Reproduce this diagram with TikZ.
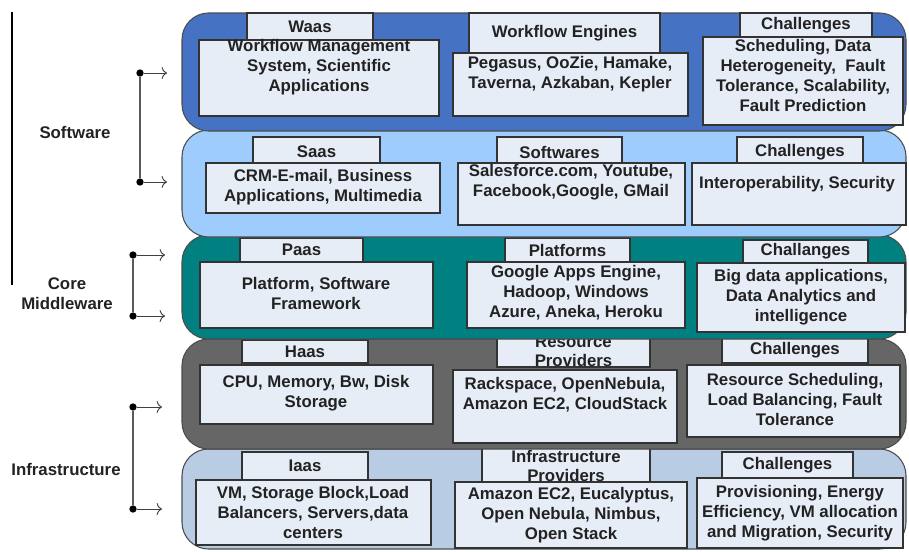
\documentclass[tikz,border=0pt]{standalone}
\usepackage{fontspec}
\setmainfont{Liberation Sans}
\usetikzlibrary{arrows.meta}

\definecolor{waasblue}{RGB}{70,114,196}
\definecolor{saasblue}{RGB}{158,204,252}
\definecolor{paasteal}{RGB}{0,128,128}
\definecolor{haasgray}{RGB}{102,102,102}
\definecolor{iaaslight}{RGB}{184,204,228}
\definecolor{boxfill}{RGB}{231,237,247}
\definecolor{inktext}{RGB}{34,34,34}

\begin{document}
\begin{tikzpicture}[
        x=0.75pt, y=-0.75pt,
        font=\fontsize{12.6}{15}\selectfont\bfseries,
        wh/.style 2 args={minimum width=#1*0.75pt, minimum height=#2*0.75pt},
        layer/.style={draw=black!70, line width=0.8pt, rounded corners=20pt, inner sep=0pt},
        titlebox/.style={draw=black!80, line width=0.8pt, fill=boxfill, inner sep=0pt, text=inktext},
        contentbox/.style={draw=black!80, line width=0.8pt, fill=boxfill, inner sep=0pt},
        boxtext/.style={align=center, inner sep=0pt, text=inktext},
        tighttext/.style={align=center, inner sep=0pt, text=inktext, font=\fontsize{12.6}{14}\selectfont\bfseries},
        sidelabel/.style={align=center, inner sep=0pt, text=inktext},
        dot/.style={circle, fill=black, inner sep=0pt, minimum size=5.5pt},
        bracket/.style={draw=black!65, line width=1.1pt},
        pointer/.style={-{To[length=4pt, width=9pt]}, draw=black!75, line width=0.7pt}
    ]
    \useasboundingbox (0,0) rectangle (909,551);

    % --- Iaas layer ---
    \node[layer, fill=iaaslight, wh={724}{100}] (iL) at (544,499) {};
    \node[titlebox, wh={126}{28}] (iaasT) at (305,466) {Iaas};
    \node[contentbox, wh={235}{65}] (iaasB) at (313.5,512.5) {};
    \node[boxtext] (iaasX) at (313,512) {VM, Storage Block,Load\\Balancers, Servers,data\\centers};
    \node[titlebox, wh={168}{37}] (ipT) at (566,463.5) {};
    \node[tighttext] (ipTX) at (566,466) {Infrastructure\\Providers};
    \node[contentbox, wh={232}{66}] (ipB) at (571,515) {};
    \node[boxtext] (ipX) at (571,515) {Amazon EC2, Eucalyptus,\\Open Nebula, Nimbus,\\Open Stack};
    \node[titlebox, wh={131}{26}] (ichT) at (787.5,465) {Challenges};
    \node[contentbox, wh={206}{70}] (ichB) at (800,513) {};
    \node[boxtext] (ichX) at (800,513) {Provisioning, Energy\\Efficiency, VM allocation\\and Migration, Security};

    % --- Haas layer ---
    \node[layer, fill=haasgray, wh={724}{110}] (hL) at (544,394) {};
    \node[titlebox, wh={126}{23}] (haasT) at (305,351.5) {Haas};
    \node[contentbox, wh={233}{59}] (haasB) at (316.5,394.5) {};
    \node[boxtext] (haasX) at (316,393.5) {CPU, Memory, Bw, Disk\\Storage};
    \node[titlebox, wh={153}{34}] (rpT) at (573.5,350) {};
    \node[tighttext] (rpTX) at (573.5,351.5) {Resource\\Providers};
    \node[contentbox, wh={224}{73}] (rpB) at (565,406.5) {};
    \node[boxtext] (rpX) at (565,394.5) {Rackspace, OpenNebula,\\Amazon EC2, CloudStack};
    \node[titlebox, wh={146}{26}] (hchT) at (795,350) {Challenges};
    \node[contentbox, wh={213}{72}] (hchB) at (793.5,401) {};
    \node[boxtext] (hchX) at (795,399.5) {Resource Scheduling,\\Load Balancing, Fault\\Tolerance};

    % --- Paas layer ---
    \node[layer, fill=paasteal, wh={724}{104}] (pL) at (544,287) {};
    \node[titlebox, wh={123}{24}] (paasT) at (301.5,250) {Paas};
    \node[contentbox, wh={233}{66}] (paasB) at (316.5,295) {};
    \node[boxtext] (paasX) at (316,293) {Platform, Software\\Framework};
    \node[titlebox, wh={125}{24}] (platT) at (567.5,250) {Platforms};
    \node[contentbox, wh={218}{66}] (platB) at (576,295) {};
    \node[boxtext] (platX) at (576,293) {Google Apps Engine,\\Hadoop, Windows\\Azure, Aneka, Heroku};
    \node[titlebox, wh={125}{23}] (pchT) at (805.5,251.5) {Challanges};
    \node[contentbox, wh={208}{69}] (pchB) at (801,297.5) {};
    \node[boxtext] (pchX) at (801,297) {Big data applications,\\Data Analytics and\\intelligence};

    % --- Saas layer ---
    \node[layer, fill=saasblue, wh={724}{107}] (sL) at (544,183.5) {};
    \node[titlebox, wh={127}{30}] (saasT) at (316.5,152) {Saas};
    \node[contentbox, wh={234}{50}] (saasB) at (323,188) {};
    \node[boxtext] (saasX) at (323,187) {CRM-E-mail, Business\\Applications, Multimedia};
    \node[titlebox, wh={125}{30}] (swT) at (559.5,152) {Softwares};
    \node[contentbox, wh={227}{62}] (swB) at (571.5,194) {};
    \node[boxtext] (swX) at (571,182) {Salesforce.com, Youtube,\\Facebook,Google, GMail};
    \node[titlebox, wh={126}{30}] (schT) at (800,152) {Challenges};
    \node[contentbox, wh={214}{62}] (schB) at (799,194) {};
    \node[boxtext] (schX) at (797,184) {Interoperability, Security};

    % --- Waas layer ---
    \node[layer, fill=waasblue, wh={724}{118}] (wL) at (544,72) {};
    \node[titlebox, wh={126}{27}] (waasT) at (310,26.5) {Waas};
    \node[contentbox, wh={240}{76}] (wmsB) at (319,78) {};
    \node[boxtext] (wmsX) at (319,67) {Workflow Management\\System, Scientific\\Applications};
    \node[titlebox, wh={191}{40}] (wfeT) at (564.5,33) {Workflow Engines};
    \node[contentbox, wh={235}{63}] (wfeB) at (570.5,84.5) {};
    \node[boxtext] (wfeX) at (570,74) {Pegasus, OoZie, Hamake,\\Taverna, Azkaban, Kepler};
    \node[titlebox, wh={132}{24}] (wchT) at (806,25) {Challenges};
    \node[contentbox, wh={200}{88}] (wchB) at (803,81) {};
    \node[boxtext] (wchX) at (803,75) {Scheduling, Data\\Heterogeneity,\ \ Fault\\Tolerance, Scalability,\\Fault Prediction};

    % --- Side labels and brackets ---
    \coordinate (railTop) at (12,12);
    \coordinate (railBot) at (12,285);
    \draw[black, line width=0.8pt] (railTop) -- (railBot);

    \node[sidelabel] (swLbl) at (75,132) {Software};
    \node[dot] (sw1) at (140,73) {};
    \node[dot] (sw2) at (140,182) {};
    \coordinate (swA1) at (167,73);
    \coordinate (swA2) at (167,182);
    \draw[bracket] (sw1) -- (sw2);
    \draw[pointer] (sw1) -- (swA1);
    \draw[pointer] (sw2) -- (swA2);

    \node[sidelabel] (cmLbl) at (67,294) {Core\\Middleware};
    \node[dot] (cm1) at (133,255) {};
    \node[dot] (cm2) at (133,316) {};
    \coordinate (cmA1) at (165,255);
    \coordinate (cmA2) at (165,316);
    \draw[bracket] (cm1) -- (cm2);
    \draw[pointer] (cm1) -- (cmA1);
    \draw[pointer] (cm2) -- (cmA2);

    \node[sidelabel] (inLbl) at (66,469) {Infrastructure};
    \node[dot] (in1) at (133,407) {};
    \node[dot] (in2) at (133,509) {};
    \coordinate (inA1) at (162,407);
    \coordinate (inA2) at (162,509);
    \draw[bracket] (in1) -- (in2);
    \draw[pointer] (in1) -- (inA1);
    \draw[pointer] (in2) -- (inA2);
\end{tikzpicture}
\end{document}
